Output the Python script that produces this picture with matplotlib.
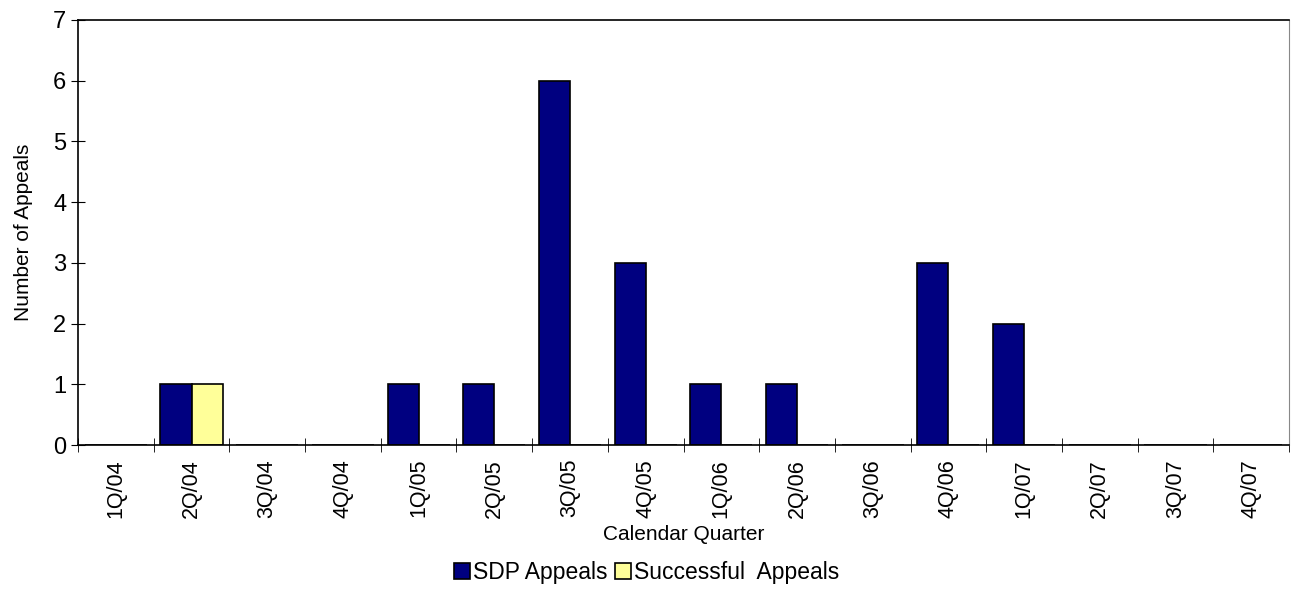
import matplotlib
matplotlib.use("Agg")
import matplotlib.pyplot as plt
import numpy as np

plt.rcParams["font.family"] = ["Liberation Sans", "DejaVu Sans"]

quarters = ["1Q/04", "2Q/04", "3Q/04", "4Q/04", "1Q/05", "2Q/05", "3Q/05", "4Q/05",
            "1Q/06", "2Q/06", "3Q/06", "4Q/06", "1Q/07", "2Q/07", "3Q/07", "4Q/07"]
sdp_appeals = [0, 1, 0, 0, 1, 1, 6, 3, 1, 1, 0, 3, 2, 0, 0, 0]
successful_appeals = [0, 1, 0, 0, 0, 0, 0, 0, 0, 0, 0, 0, 0, 0, 0, 0]

fig = plt.figure(figsize=(12.93, 5.96), dpi=100)
ax = fig.add_axes([78 / 1293, 1 - 445 / 596, (1289 - 78) / 1293, (445 - 20) / 596])

x = np.arange(len(quarters))
w = 0.41
ax.bar(x - w / 2, sdp_appeals, w, color="#000080", edgecolor="black", linewidth=1.2,
       label="SDP Appeals")
ax.bar(x + w / 2, successful_appeals, w, color="#FFFF99", edgecolor="black", linewidth=1.2,
       label="Successful  Appeals")

ax.set_xlim(-0.5, len(quarters) - 0.5)
ax.set_ylim(0, 7)
ax.set_yticks(range(8))
ax.set_xticks(x)
ax.set_xticklabels(quarters, rotation=90)
ax.set_xticks(np.arange(-0.5, len(quarters), 1), minor=True)
ax.tick_params(axis="x", which="major", length=0, pad=10, labelsize=15.5)
ax.tick_params(axis="x", which="minor", length=10, direction="inout")
ax.tick_params(axis="y", direction="inout", length=10, labelsize=17)
for s in ["left", "bottom", "top"]:
    ax.spines[s].set_linewidth(1.2)
ax.spines["right"].set_color("#888888")
ax.set_ylabel("Number of Appeals", fontsize=15, labelpad=14)
ax.set_xlabel("Calendar Quarter", fontsize=15)
ax.xaxis.set_label_coords(0.5, -0.188)

fig.legend(loc="lower center", bbox_to_anchor=(0.5, -0.015), ncol=2, frameon=False,
           fontsize=16.5, handlelength=0.7, handleheight=0.7, handletextpad=0.15,
           columnspacing=0.3)
fig.savefig("out.png", dpi=100)
